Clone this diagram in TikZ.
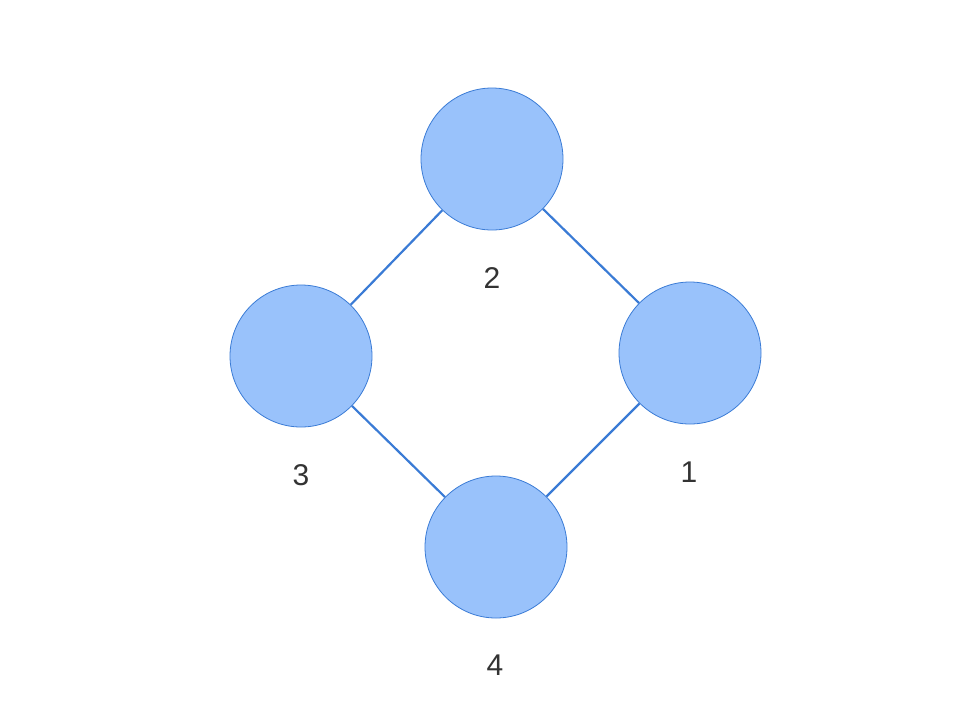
\documentclass[tikz,border=0pt]{standalone}
\usepackage{fontspec}
\setmainfont{Liberation Sans}
\definecolor{cfill}{HTML}{99C2FB}
\definecolor{cline}{HTML}{3A7BD5}
\definecolor{ctext}{HTML}{333333}
\begin{document}
\begin{tikzpicture}[x=1pt,y=-1pt,
  vert/.style={circle,draw=cline,fill=cfill,line width=0.8pt,minimum size=142pt,inner sep=0pt},
  lab/.style={text=ctext,font=\fontsize{30}{30}\selectfont},
  edge/.style={draw=cline,line width=2.2pt}]
\useasboundingbox (0,0) rectangle (973,726);
\node[vert] (n2) at (492,159) {};
\node[vert] (n3) at (301,356) {};
\node[vert] (n1) at (690,353) {};
\node[vert] (n4) at (496,547) {};
\draw[edge] (n2) -- (n3);
\draw[edge] (n2) -- (n1);
\draw[edge] (n3) -- (n4);
\draw[edge] (n1) -- (n4);
\node[lab] (l2) at (492,278) {2};
\node[lab] (l3) at (301,475) {3};
\node[lab] (l1) at (689,472) {1};
\node[lab] (l4) at (495,665) {4};
\end{tikzpicture}
\end{document}
